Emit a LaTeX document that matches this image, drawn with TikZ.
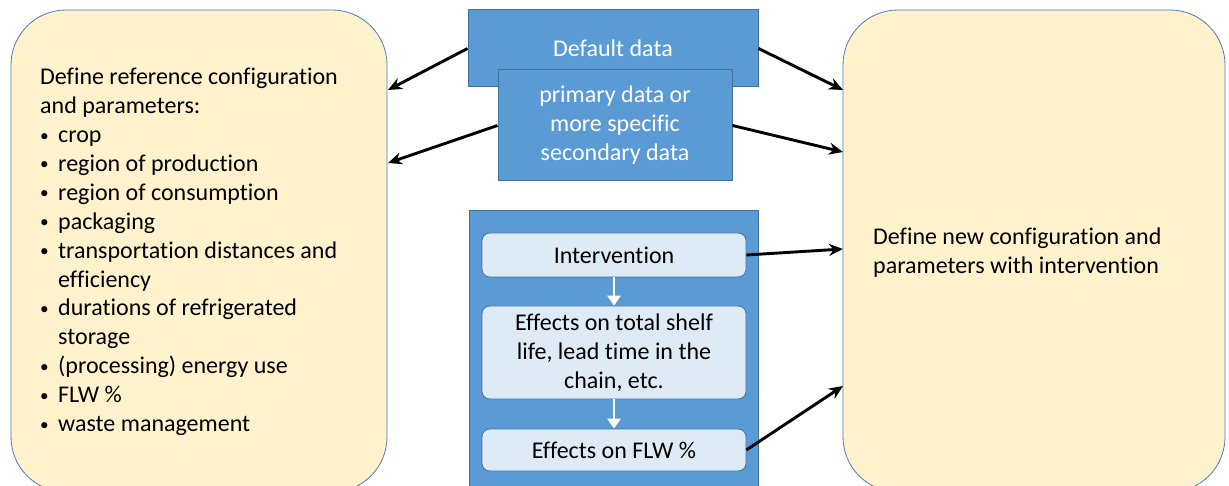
\documentclass[tikz,border=0pt]{standalone}
\usepackage{fontspec}
\setmainfont{Carlito}[Ligatures=NoCommon]
\usetikzlibrary{arrows.meta}
\definecolor{cfgfill}{HTML}{FFF2CC}
\definecolor{cfgline}{HTML}{4A7EBB}
\definecolor{datafill}{HTML}{5B9BD5}
\definecolor{dataline}{HTML}{41719C}
\definecolor{stagefill}{HTML}{DEEBF7}
\newcommand{\txt}{\fontsize{24}{28.9}\selectfont}
\newcommand{\bul}{\makebox[18pt][l]{\raisebox{1.5pt}{\scalebox{0.72}{\textbullet}}}}
\newcommand{\cont}{\hspace*{18pt}}
\tikzset{
  cfgbox/.style={draw=cfgline, line width=0.8pt, fill=cfgfill, rounded corners=55pt, inner sep=0pt},
  databox/.style={draw=dataline, line width=1pt, fill=datafill, text=white, font=\txt, align=center, inner sep=0pt},
  panel/.style={draw=dataline, line width=1pt, fill=datafill, inner sep=0pt},
  stagebox/.style={draw=dataline, line width=0.7pt, fill=stagefill, rounded corners=8pt, font=\txt, align=center, inner sep=0pt, minimum width=264pt},
  link/.style={line width=2.9pt, -{Stealth[length=14pt,width=12pt]}},
  flow/.style={white, line width=2.8pt, -{Triangle[length=10pt,width=13pt]}},
  plain/.style={font=\txt, align=left, inner sep=0pt}
}
\begin{document}
\begin{tikzpicture}[x=1pt,y=-1pt]
\useasboundingbox (0,0) rectangle (1229,486);
\clip (0,0) rectangle (1229,486);

% configuration boxes
\node[cfgbox, minimum width=376pt, minimum height=482pt] (ref) at (199,251) {};
\node[cfgbox, minimum width=382pt, minimum height=482pt] (new) at (1034,251) {};

% data sources
\node[databox, minimum width=290pt, minimum height=77pt] (dd) at (613,48.5) {\raisebox{1pt}{Default data}};
\node[databox, minimum width=234pt, minimum height=111pt] (pd) at (615,125.5) {\raisebox{-2pt}{\begin{tabular}{@{}c@{}}primary data or\\more specific\\secondary data\end{tabular}}};

% intervention panel
\node[panel, minimum width=289pt, minimum height=320pt] (pan) at (613.5,371) {};
\node[stagebox, minimum height=44pt] (iv) at (614,255) {Intervention};
\node[stagebox, minimum height=93pt] (fx) at (614,352.5) {Effects on total shelf\\life, lead time in the\\chain, etc.};
\node[stagebox, minimum height=42pt] (flw) at (614,450) {Effects on FLW \%};
\draw[flow] (iv.south) -- (fx.north);
\draw[flow] (fx.south) -- (flw.north);

% texts of the configuration boxes
\node[plain, anchor=north west] (reftext) at (40,68) {Define reference configuration\\and parameters:\\
\bul crop\\
\bul region of production\\
\bul region of consumption\\
\bul packaging\\
\bul transportation distances and\\
\cont efficiency\\
\bul durations of refrigerated\\
\cont storage\\
\bul (processing) energy use\\
\bul FLW \%\\
\bul waste management};
\node[plain, anchor=north west] (newtext) at (873,228) {Define new configuration and\\parameters with intervention};

% connectors
\coordinate (r1) at (388,90);
\coordinate (r2) at (388,163);
\coordinate (n1) at (843,90);
\coordinate (n2) at (843,152);
\coordinate (n3) at (843,249);
\coordinate (n4) at (843,386);
\draw[link] (dd.west) -- (r1);
\draw[link] (pd.west) -- (r2);
\draw[link] (dd.east) -- (n1);
\draw[link] (pd.east) -- (n2);
\draw[link] (iv.east) -- (n3);
\draw[link] (flw.east) -- (n4);
\end{tikzpicture}
\end{document}
